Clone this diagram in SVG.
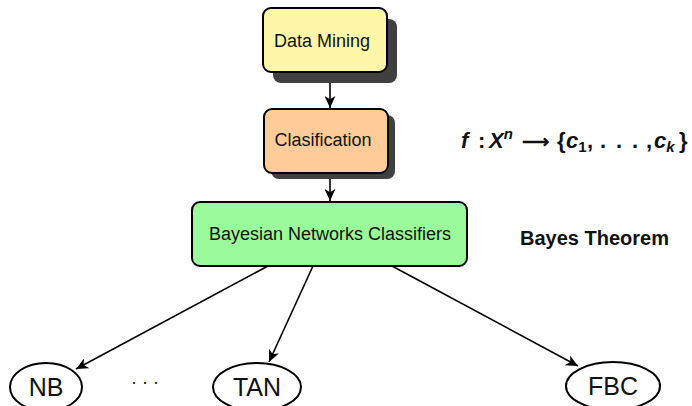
<svg xmlns="http://www.w3.org/2000/svg" width="692" height="406" viewBox="0 0 692 406">
<style>
.box{stroke:#000;stroke-width:2}
.shadow{fill:#404040}
.lbl{font-family:"Liberation Sans",Arial,sans-serif;font-size:18px;fill:#111;text-anchor:middle}
.leaf{font-family:"Liberation Sans",Arial,sans-serif;font-size:25px;fill:#111;text-anchor:middle}
.ell{fill:#fff;stroke:#000;stroke-width:2}
.edge{stroke:#000;stroke-width:1.6;fill:none;marker-end:url(#ah)}
.math{font-family:"Liberation Sans",Arial,sans-serif;font-size:22px;font-weight:bold;fill:#111}
</style>
<defs>
<marker id="ah" viewBox="0 0 12 10" refX="11" refY="5" markerWidth="13" markerHeight="11" markerUnits="userSpaceOnUse" orient="auto">
<path d="M0,0 L11,5 L0,10 L3,5 Z" fill="#000"/>
</marker>
</defs>
<rect width="692" height="406" fill="#fff"/>
<g id="edges">
<line class="edge" x1="330" y1="72" x2="330" y2="108"/>
<line class="edge" x1="330" y1="173" x2="330" y2="201"/>
<line class="edge" x1="268" y1="266" x2="76" y2="369"/>
<line class="edge" x1="313" y1="266" x2="269" y2="362"/>
<line class="edge" x1="392" y1="266" x2="578" y2="366"/>
</g>
<g id="datamining">
<rect class="shadow" x="273" y="19" width="124" height="64" rx="8"/>
<rect class="box" x="263" y="8" width="124" height="64" rx="8" fill="#fff7a8"/>
<text class="lbl" x="322" y="47">Data Mining</text>
</g>
<g id="clasification">
<rect class="shadow" x="271" y="115" width="124" height="64" rx="8"/>
<rect class="box" x="264" y="109" width="124" height="64" rx="8" fill="#ffcc99"/>
<text class="lbl" x="323" y="146">Clasification</text>
</g>
<g id="bayesian">
<rect class="box" x="192" y="202" width="275" height="64" rx="8" fill="#99fb99"/>
<text class="lbl" x="330" y="240">Bayesian Networks Classifiers</text>
</g>
<g id="formula">
<text class="math" y="148"><tspan x="461" font-style="italic">f</tspan><tspan x="478">:</tspan><tspan x="489" font-style="italic">X</tspan><tspan font-style="italic" font-size="15" dy="-9">n</tspan><tspan x="522" dy="9" font-size="19">⟶</tspan><tspan x="557">{</tspan><tspan x="566" font-style="italic">c</tspan><tspan font-size="15" dy="4">1</tspan><tspan x="587" dy="-4">,</tspan><tspan x="600">.</tspan><tspan x="616">.</tspan><tspan x="632">.</tspan><tspan x="646">,</tspan><tspan x="654" font-style="italic">c</tspan><tspan font-style="italic" font-size="15" dy="4">k</tspan><tspan x="679" dy="-4">}</tspan></text>
</g>
<g id="bayestheorem">
<text x="520" y="245" font-family="Liberation Sans,Arial,sans-serif" font-size="20" font-weight="bold" fill="#111">Bayes Theorem</text>
</g>
<g id="nb">
<ellipse class="ell" cx="46" cy="387" rx="36" ry="24"/>
<text class="leaf" x="46" y="396">NB</text>
</g>
<g id="dots">
<text x="145" y="388" font-family="Liberation Sans,Arial,sans-serif" font-size="18" fill="#111" text-anchor="middle">·  ·  ·</text>
</g>
<g id="tan">
<ellipse class="ell" cx="257" cy="387" rx="44" ry="24"/>
<text class="leaf" x="257" y="396">TAN</text>
</g>
<g id="fbc">
<ellipse class="ell" cx="613" cy="386" rx="47" ry="24"/>
<text class="leaf" x="613" y="395">FBC</text>
</g>
</svg>
